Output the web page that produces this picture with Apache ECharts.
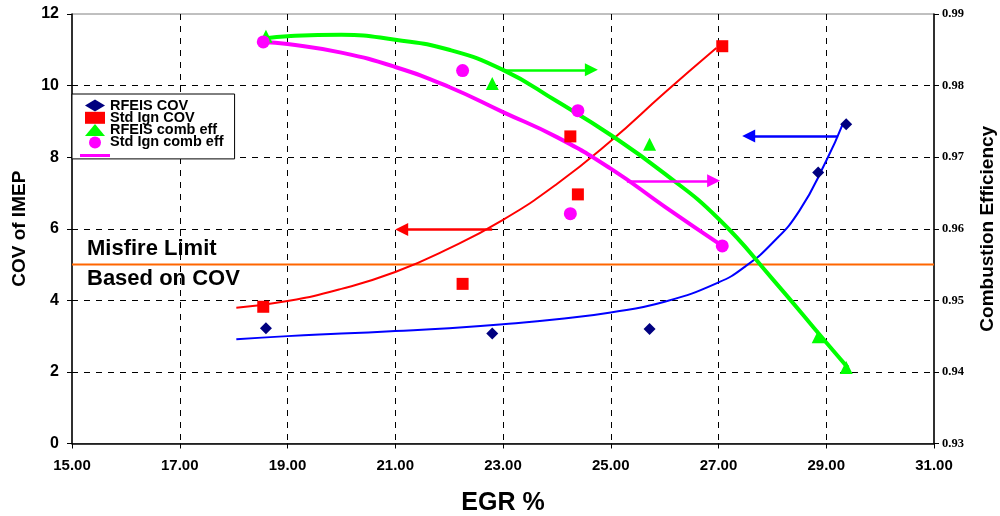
<!DOCTYPE html>
<html><head><meta charset="utf-8">
<script src="https://cdn.jsdelivr.net/npm/echarts@6/dist/echarts.min.js"></script>
<style>html,body{margin:0;padding:0;background:#fff}#c{width:1000px;height:516px}</style>
</head><body><div id="c"></div>
<script>
// ---- data ----
const xRFEIS = [18.6, 22.8, 25.72, 28.85, 29.37];
const rfeisCov = [3.22, 3.07, 3.2, 7.57, 8.92];
const rfeisEff = [0.9869, 0.9803, 0.9718, 0.9449, 0.9406];
const xStd = [18.55, 22.25, 24.25, 24.39, 27.07];
const stdCov = [3.82, 4.46, 8.58, 6.96, 11.1];
const stdEff = [0.9861, 0.9821, 0.9621, 0.9765, 0.9576];
// trend lines
const blueTrendX = [18.05, 19, 20, 21, 22, 23, 24, 25, 26, 27, 27.5, 28, 28.5, 29, 29.31];
const blueTrendY = [2.91, 3.0, 3.07, 3.14, 3.22, 3.33, 3.47, 3.66, 3.96, 4.5, 4.95, 5.6, 6.5, 7.9, 8.94];
const redTrendX = [18.05, 19, 20, 21, 22, 23, 24, 25, 26, 26.96];
const redTrendY = [3.79, 3.98, 4.32, 4.79, 5.45, 6.25, 7.25, 8.45, 9.8, 11.05];
const greenTrendX = [18.6, 19, 20, 21, 22, 23, 24, 25, 26, 27, 28, 29, 29.4];
const greenTrendY = [0.9866, 0.9869, 0.9871, 0.9864, 0.985, 0.9822, 0.9778, 0.9731, 0.9677, 0.9614, 0.953, 0.9441, 0.9406];
const magTrendX = [18.55, 19, 20, 21, 22, 23, 24, 25, 26, 27.07];
const magTrendY = [0.9861, 0.9858, 0.9846, 0.9826, 0.9798, 0.9763, 0.9728, 0.9684, 0.9631, 0.9576];
const misfireLimit = 5;
// arrows: [xStart, xEnd, y]
const blueArrow = [29.22, 27.56, 8.59];
const redArrow = [22.8, 21.12, 5.98];
const greenArrow = [23.0, 24.64, 0.9822];
const magArrow = [25.3, 26.91, 0.9667];
const names = ['RFEIS COV', 'Std Ign COV', 'RFEIS comb eff', 'Std Ign comb eff'];

const zip = (a, b) => a.map((v, i) => [v, b[i]]);
const BOLD = 'Liberation Sans, Arial, sans-serif';

function arrow(a, color, w) {
  return {
    silent: true, symbol: ['none', 'triangle'], symbolSize: 13,
    label: { show: false }, emphasis: { disabled: true },
    lineStyle: { color: color, width: w, type: 'solid' },
    data: [[{ coord: [a[0], a[2]] }, { coord: [a[1], a[2]] }]]
  };
}
function trend(name, xs, ys, color, w, yi, arr) {
  return {
    name: name, type: 'line', yAxisIndex: yi, data: zip(xs, ys), smooth: 0.5,
    showSymbol: false, symbol: 'none', lineStyle: { color: color, width: w },
    itemStyle: { color: color }, silent: true, z: 2,
    markLine: arrow(arr, color, 2.5)
  };
}
const chart = echarts.init(document.getElementById('c'), null, { renderer: 'canvas' });
const option = {
  animation: false,
  backgroundColor: '#fff',
  grid: { left: 72, right: 66, top: 14, bottom: 72.5, containLabel: false, outerBoundsMode: 'none', show: true, borderColor: '#808080', borderWidth: 1 },
  legend: {
    data: names, orient: 'vertical', left: 72, top: 94,
    padding: [4, 11, 9, 13], itemGap: -2.7, itemWidth: 20, itemHeight: 12,
    borderColor: '#000', borderWidth: 1, backgroundColor: '#fff',
    textStyle: { fontFamily: BOLD, fontWeight: 'bold', fontSize: 14.5, color: '#000' }
  },
  xAxis: {
    type: 'value', min: 15, max: 31, interval: 2,
    name: 'EGR %', nameLocation: 'middle', nameGap: 47,
    nameTextStyle: { fontFamily: BOLD, fontWeight: 'bold', fontSize: 25, color: '#000' },
    axisLine: { lineStyle: { color: '#000', width: 1.5 } },
    axisTick: { length: 5, lineStyle: { color: '#000' } },
    axisLabel: { formatter: v => v.toFixed(2), fontFamily: BOLD, fontWeight: 'bold', fontSize: 15, color: '#000', margin: 15 },
    splitLine: { show: true, showMinLine: false, showMaxLine: false, lineStyle: { color: '#000', type: [6, 6], width: 1 } }
  },
  yAxis: [{
    type: 'value', min: 0, max: 12, interval: 2,
    name: 'COV of IMEP', nameLocation: 'middle', nameGap: 43, nameRotate: 90,
    nameTextStyle: { fontFamily: BOLD, fontWeight: 'bold', fontSize: 19, color: '#000' },
    axisLine: { show: true, lineStyle: { color: '#000', width: 1.5 } },
    axisTick: { show: true, length: 5, lineStyle: { color: '#000' } },
    axisLabel: { fontFamily: BOLD, fontWeight: 'bold', fontSize: 16, color: '#000', margin: 13 },
    splitLine: { show: true, showMinLine: false, showMaxLine: false, lineStyle: { color: '#000', type: [6, 6], width: 1 } }
  }, {
    type: 'value', position: 'right', min: 0.93, max: 0.99, interval: 0.01,
    name: 'Combustion Efficiency', nameLocation: 'middle', nameGap: 44, nameRotate: 90,
    nameTextStyle: { fontFamily: BOLD, fontWeight: 'bold', fontSize: 19, color: '#000' },
    axisLine: { show: true, lineStyle: { color: '#000', width: 1.5 } },
    axisTick: { show: true, length: 5, lineStyle: { color: '#000' } },
    axisLabel: { formatter: v => v.toFixed(2), fontFamily: "'Liberation Serif', 'Times New Roman', serif", fontWeight: 'bold', fontSize: 12.5, color: '#000', margin: 8 },
    splitLine: { show: false }
  }],
  graphic: [
    { type: 'text', left: 87, top: 238, silent: true, style: { text: 'Misfire Limit', fontFamily: BOLD, fontWeight: 'bold', fontSize: 22, fill: '#000' } },
    { type: 'text', left: 87, top: 268, silent: true, style: { text: 'Based on COV', fontFamily: BOLD, fontWeight: 'bold', fontSize: 22, fill: '#000' } },
    { type: 'line', silent: true, z: 100, shape: { x1: 80, y1: 155.5, x2: 110, y2: 155.5 }, style: { stroke: '#ff00ff', lineWidth: 3 } }
  ],
  series: [
    {
      name: 'misfire', type: 'line', data: [[15, misfireLimit], [31, misfireLimit]], showSymbol: false, symbol: 'none',
      lineStyle: { color: '#ff6600', width: 2 }, silent: true, z: 2
    },
    trend('blueTrend', blueTrendX, blueTrendY, '#0000ff', 2, 0, blueArrow),
    trend('redTrend', redTrendX, redTrendY, '#ff0000', 2, 0, redArrow),
    trend('greenTrend', greenTrendX, greenTrendY, '#00ff00', 4, 1, greenArrow),
    trend('magTrend', magTrendX, magTrendY, '#ff00ff', 4, 1, magArrow),
    { name: names[0], type: 'scatter', yAxisIndex: 0, data: zip(xRFEIS, rfeisCov), symbol: 'diamond', symbolSize: 12, itemStyle: { color: '#000080', opacity: 1 }, z: 5 },
    { name: names[1], type: 'scatter', yAxisIndex: 0, data: zip(xStd, stdCov), symbol: 'rect', symbolSize: 12, itemStyle: { color: '#ff0000', opacity: 1 }, z: 5 },
    { name: names[2], type: 'scatter', yAxisIndex: 1, data: zip(xRFEIS, rfeisEff), symbol: 'triangle', symbolSize: 13, itemStyle: { color: '#00ff00', opacity: 1 }, z: 5 },
    { name: names[3], type: 'scatter', yAxisIndex: 1, data: zip(xStd, stdEff), symbol: 'circle', symbolSize: 13, itemStyle: { color: '#ff00ff', opacity: 1 }, z: 6 }
  ]
};
chart.setOption(option);
</script></body></html>
